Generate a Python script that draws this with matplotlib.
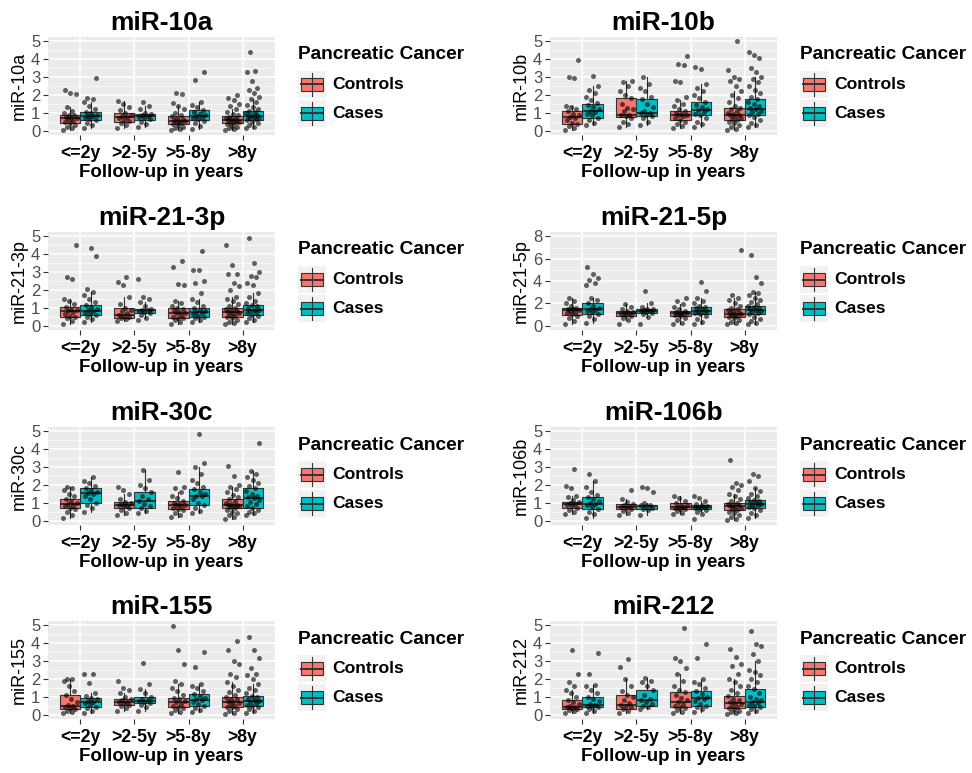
import numpy as np
import matplotlib
matplotlib.use('Agg')
import matplotlib.pyplot as plt
from matplotlib.patches import Rectangle

plt.rcParams['font.family'] = ['Liberation Sans', 'DejaVu Sans']

periods = ['<=2y', '>2-5y', '>5-8y', '>8y']
groups = ['Controls', 'Cases']
group_colors = ['#F8766D', '#00BFC4']

# box stats, order: ctrl <=2y, case <=2y, ctrl >2-5y, case >2-5y, ...
q1_10a = [0.45, 0.60, 0.50, 0.60, 0.35, 0.60, 0.45, 0.60]
med_10a = [0.70, 0.80, 0.75, 0.80, 0.55, 0.80, 0.60, 0.80]
q3_10a = [0.90, 1.05, 1.00, 0.95, 0.80, 1.15, 0.80, 1.10]
pts_10a = [
    [0.05, 0.12, 0.2, 0.3, 0.42, 0.48, 0.55, 0.62, 0.7, 0.72, 0.78, 0.85, 0.9, 1.0, 1.1, 1.3, 2.05, 2.1, 2.25],
    [0.15, 0.3, 0.45, 0.58, 0.65, 0.72, 0.8, 0.82, 0.9, 0.98, 1.05, 1.2, 1.4, 1.6, 1.75, 1.8, 2.95],
    [0.15, 0.3, 0.45, 0.52, 0.6, 0.7, 0.75, 0.8, 0.9, 1.0, 1.15, 1.3, 1.5, 1.65],
    [0.2, 0.35, 0.5, 0.62, 0.7, 0.78, 0.8, 0.85, 0.92, 1.0, 1.2, 1.4, 1.6],
    [0.05, 0.1, 0.15, 0.22, 0.3, 0.35, 0.4, 0.48, 0.52, 0.55, 0.6, 0.65, 0.72, 0.8, 0.9, 1.0, 1.2, 1.4, 1.55, 2.05, 2.08],
    [0.1, 0.25, 0.4, 0.55, 0.62, 0.7, 0.78, 0.8, 0.88, 0.95, 1.05, 1.15, 1.3, 1.45, 1.6, 2.85, 3.3],
    [0.05, 0.1, 0.15, 0.2, 0.28, 0.35, 0.42, 0.45, 0.5, 0.55, 0.58, 0.6, 0.62, 0.68, 0.72, 0.78, 0.85, 0.95, 1.05, 1.2, 1.35, 1.5, 1.7, 1.85, 2.0],
    [0.15, 0.22, 0.3, 0.4, 0.5, 0.58, 0.62, 0.68, 0.72, 0.78, 0.8, 0.85, 0.9, 0.98, 1.05, 1.1, 1.2, 1.3, 1.45, 1.6, 1.75, 1.9, 2.1, 2.3, 2.4, 2.8, 3.3, 3.35, 4.4],
]

q1_10b = [0.35, 0.70, 0.75, 0.80, 0.60, 0.85, 0.60, 0.90]
med_10b = [0.75, 1.10, 0.90, 1.00, 0.90, 1.15, 0.90, 1.20]
q3_10b = [1.10, 1.50, 1.80, 1.75, 1.10, 1.60, 1.25, 1.75]
pts_10b = [
    [0.05, 0.15, 0.25, 0.35, 0.45, 0.6, 0.72, 0.78, 0.85, 0.95, 1.1, 1.2, 1.3, 1.4, 2.95, 3.0, 3.95],
    [0.3, 0.45, 0.6, 0.7, 0.85, 0.95, 1.05, 1.1, 1.2, 1.3, 1.45, 1.55, 1.7, 1.9, 2.1, 2.3, 2.5, 3.05],
    [0.2, 0.35, 0.5, 0.72, 0.8, 0.88, 0.9, 1.1, 1.2, 1.25, 1.5, 1.8, 2.0, 2.2, 2.5, 2.7, 2.8],
    [0.3, 0.5, 0.7, 0.82, 0.9, 0.98, 1.0, 1.1, 1.3, 1.5, 1.75, 1.9, 2.2, 2.4, 2.6, 3.0],
    [0.15, 0.25, 0.35, 0.5, 0.6, 0.7, 0.8, 0.88, 0.9, 0.95, 1.0, 1.1, 1.2, 1.35, 1.5, 1.7, 1.9, 2.75, 2.8, 3.7, 3.75, 4.2],
    [0.2, 0.35, 0.5, 0.7, 0.85, 0.95, 1.05, 1.15, 1.2, 1.3, 1.45, 1.6, 1.8, 2.0, 2.2, 2.4, 2.6, 3.45, 3.55],
    [0.05, 0.1, 0.2, 0.3, 0.4, 0.5, 0.6, 0.65, 0.72, 0.8, 0.88, 0.9, 0.95, 1.0, 1.1, 1.2, 1.25, 1.4, 1.6, 1.8, 2.0, 2.2, 2.5, 2.8, 2.9, 3.0, 3.4, 5.0],
    [0.2, 0.3, 0.45, 0.6, 0.75, 0.9, 0.95, 1.05, 1.1, 1.2, 1.25, 1.35, 1.5, 1.6, 1.75, 1.9, 2.1, 2.3, 2.5, 2.7, 2.9, 3.0, 3.3, 3.5, 4.05, 4.25, 4.4],
]

q1_21_3p = [0.50, 0.60, 0.45, 0.70, 0.45, 0.50, 0.50, 0.60]
med_21_3p = [0.80, 0.80, 0.60, 0.85, 0.70, 0.75, 0.75, 0.85]
q3_21_3p = [1.05, 1.15, 1.00, 0.95, 1.00, 1.00, 1.00, 1.15]
pts_21_3p = [
    [0.1, 0.25, 0.4, 0.5, 0.55, 0.65, 0.75, 0.8, 0.88, 0.95, 1.05, 1.2, 1.35, 1.5, 2.6, 2.75, 4.5],
    [0.2, 0.35, 0.5, 0.6, 0.65, 0.72, 0.8, 0.85, 0.95, 1.05, 1.15, 1.3, 1.5, 1.7, 1.9, 2.05, 3.9, 4.35],
    [0.25, 0.35, 0.45, 0.5, 0.55, 0.6, 0.7, 0.8, 0.9, 1.0, 1.2, 1.6, 2.25, 2.45, 2.75],
    [0.3, 0.45, 0.6, 0.7, 0.75, 0.8, 0.85, 0.9, 0.95, 1.1, 1.3, 1.5, 1.6, 2.6],
    [0.1, 0.2, 0.3, 0.4, 0.45, 0.5, 0.6, 0.68, 0.7, 0.75, 0.85, 0.95, 1.0, 1.1, 1.25, 1.4, 2.25, 2.35, 3.3, 3.6],
    [0.2, 0.3, 0.4, 0.5, 0.55, 0.65, 0.72, 0.75, 0.8, 0.9, 1.0, 1.1, 1.3, 1.5, 1.8, 2.4, 2.5, 3.1, 3.12, 4.2],
    [0.1, 0.15, 0.2, 0.3, 0.4, 0.5, 0.55, 0.6, 0.68, 0.72, 0.75, 0.8, 0.88, 0.95, 1.0, 1.1, 1.2, 1.35, 1.5, 1.6, 2.0, 2.2, 2.4, 2.9, 2.92, 3.4, 4.5],
    [0.2, 0.3, 0.45, 0.55, 0.6, 0.68, 0.75, 0.8, 0.85, 0.9, 1.0, 1.1, 1.15, 1.25, 1.4, 1.6, 1.8, 2.3, 2.4, 2.7, 2.8, 3.0, 3.5, 4.9],
]

q1_21_5p = [0.95, 1.05, 0.85, 1.10, 0.85, 1.00, 0.80, 1.00]
med_21_5p = [1.40, 1.45, 1.10, 1.35, 1.10, 1.35, 1.05, 1.40]
q3_21_5p = [1.60, 2.05, 1.30, 1.50, 1.35, 1.65, 1.50, 1.80]
pts_21_5p = [
    [0.1, 0.4, 0.7, 0.9, 1.0, 1.1, 1.25, 1.35, 1.4, 1.45, 1.5, 1.6, 1.8, 2.0, 2.2, 2.5],
    [0.2, 0.6, 0.9, 1.05, 1.2, 1.3, 1.4, 1.45, 1.6, 1.8, 2.05, 2.3, 2.5, 3.6, 3.8, 4.1, 4.3, 4.6, 5.3],
    [0.1, 0.5, 0.7, 0.85, 0.95, 1.05, 1.1, 1.15, 1.25, 1.3, 1.5, 1.7, 1.9],
    [0.15, 0.8, 1.0, 1.1, 1.2, 1.3, 1.35, 1.4, 1.45, 1.5, 1.7, 2.0, 3.1],
    [0.1, 0.2, 0.5, 0.7, 0.85, 0.95, 1.0, 1.05, 1.1, 1.15, 1.25, 1.35, 1.5, 1.7, 1.9, 2.2, 2.5],
    [0.1, 0.3, 0.6, 0.85, 1.0, 1.1, 1.2, 1.3, 1.35, 1.45, 1.55, 1.65, 1.8, 2.0, 2.2, 2.5, 3.1, 3.95],
    [0.1, 0.2, 0.35, 0.5, 0.65, 0.8, 0.85, 0.95, 1.0, 1.05, 1.1, 1.2, 1.3, 1.4, 1.5, 1.6, 1.8, 2.0, 2.3, 2.5, 2.7, 6.8],
    [0.1, 0.2, 0.4, 0.6, 0.8, 1.0, 1.1, 1.2, 1.3, 1.4, 1.45, 1.55, 1.65, 1.8, 1.9, 2.1, 2.3, 2.5, 2.7, 2.9, 3.0, 3.8, 4.35, 6.3],
]

q1_30c = [0.70, 1.00, 0.70, 0.70, 0.65, 0.85, 0.70, 0.70]
med_30c = [0.95, 1.55, 0.90, 1.10, 0.85, 1.40, 0.85, 1.25]
q3_30c = [1.20, 1.80, 1.05, 1.60, 1.10, 1.75, 1.20, 1.80]
pts_30c = [
    [0.15, 0.3, 0.5, 0.65, 0.7, 0.8, 0.9, 0.95, 1.0, 1.1, 1.2, 1.35, 1.5, 1.7, 1.85, 1.9],
    [0.5, 0.7, 0.9, 1.0, 1.2, 1.4, 1.5, 1.55, 1.6, 1.7, 1.8, 1.95, 2.1, 2.2, 2.45],
    [0.3, 0.45, 0.6, 0.7, 0.8, 0.85, 0.9, 0.95, 1.0, 1.05, 1.2, 1.5, 1.7, 1.9],
    [0.45, 0.55, 0.7, 0.8, 0.95, 1.1, 1.2, 1.4, 1.6, 1.8, 2.0, 2.3, 2.85],
    [0.2, 0.3, 0.45, 0.6, 0.65, 0.72, 0.8, 0.85, 0.9, 0.95, 1.0, 1.1, 1.25, 1.4, 1.6, 1.8, 1.9, 2.75],
    [0.4, 0.55, 0.7, 0.85, 1.0, 1.2, 1.35, 1.4, 1.5, 1.6, 1.75, 1.9, 2.1, 2.3, 2.6, 3.0, 3.25, 4.85],
    [0.1, 0.2, 0.3, 0.4, 0.5, 0.6, 0.7, 0.75, 0.8, 0.82, 0.85, 0.9, 0.95, 1.0, 1.1, 1.2, 1.3, 1.45, 1.6, 1.75, 1.9, 2.0, 2.5, 3.05],
    [0.3, 0.4, 0.5, 0.6, 0.7, 0.8, 0.95, 1.05, 1.15, 1.25, 1.3, 1.4, 1.5, 1.65, 1.8, 1.95, 2.1, 2.3, 2.45, 2.6, 2.8, 4.35],
]

q1_106b = [0.70, 0.65, 0.65, 0.65, 0.65, 0.65, 0.60, 0.70]
med_106b = [0.95, 0.95, 0.75, 0.80, 0.75, 0.75, 0.80, 0.95]
q3_106b = [1.05, 1.30, 0.95, 0.90, 1.00, 0.85, 1.00, 1.15]
pts_106b = [
    [0.35, 0.5, 0.6, 0.7, 0.8, 0.9, 0.95, 1.0, 1.05, 1.15, 1.3, 1.4, 1.85, 1.95, 2.9],
    [0.15, 0.35, 0.5, 0.65, 0.75, 0.85, 0.95, 1.0, 1.1, 1.2, 1.3, 1.45, 1.6, 1.9, 2.2, 2.6],
    [0.3, 0.45, 0.55, 0.65, 0.7, 0.75, 0.8, 0.9, 0.95, 1.05, 1.2, 1.7],
    [0.3, 0.6, 0.65, 0.72, 0.8, 0.85, 0.9, 1.0, 1.6, 1.8, 1.9],
    [0.35, 0.45, 0.55, 0.62, 0.65, 0.7, 0.75, 0.78, 0.85, 0.9, 1.0, 1.1, 1.25, 1.4],
    [0.1, 0.35, 0.5, 0.6, 0.65, 0.7, 0.75, 0.78, 0.82, 0.85, 0.95, 1.1, 1.25, 1.4],
    [0.05, 0.1, 0.2, 0.3, 0.4, 0.5, 0.6, 0.65, 0.7, 0.75, 0.8, 0.85, 0.9, 0.95, 1.0, 1.1, 1.2, 1.35, 1.5, 1.7, 1.9, 2.0, 2.1, 3.4],
    [0.15, 0.3, 0.45, 0.6, 0.7, 0.78, 0.85, 0.9, 0.95, 1.0, 1.05, 1.1, 1.15, 1.25, 1.35, 1.5, 1.65, 1.8, 2.2, 2.5, 2.6],
]

q1_155 = [0.30, 0.45, 0.55, 0.65, 0.40, 0.50, 0.45, 0.50]
med_155 = [0.50, 0.70, 0.70, 0.75, 0.70, 0.80, 0.70, 0.75]
q3_155 = [1.10, 0.95, 0.85, 1.00, 0.95, 1.15, 1.00, 1.05]
pts_155 = [
    [0.1, 0.15, 0.2, 0.3, 0.35, 0.42, 0.5, 0.55, 0.7, 0.9, 1.1, 1.3, 1.6, 1.9, 2.0, 2.02],
    [0.1, 0.2, 0.35, 0.45, 0.55, 0.65, 0.7, 0.75, 0.85, 0.95, 1.05, 1.2, 1.75, 2.25, 2.3],
    [0.2, 0.35, 0.5, 0.55, 0.62, 0.7, 0.72, 0.8, 0.85, 1.0, 1.2, 1.4, 1.5, 1.9],
    [0.2, 0.4, 0.55, 0.65, 0.7, 0.75, 0.8, 0.9, 1.0, 1.2, 1.45, 1.7, 2.9],
    [0.1, 0.15, 0.25, 0.35, 0.4, 0.5, 0.6, 0.7, 0.75, 0.85, 0.95, 1.1, 1.3, 1.5, 1.7, 1.9, 2.85, 3.6, 4.95],
    [0.15, 0.25, 0.35, 0.5, 0.6, 0.7, 0.8, 0.85, 0.95, 1.05, 1.15, 1.3, 1.5, 1.6, 1.7, 2.65, 3.5],
    [0.05, 0.1, 0.2, 0.3, 0.4, 0.45, 0.5, 0.6, 0.65, 0.7, 0.75, 0.85, 0.9, 1.0, 1.1, 1.25, 1.4, 1.6, 1.8, 2.1, 2.3, 2.85, 3.0, 3.6, 4.15],
    [0.1, 0.2, 0.3, 0.4, 0.5, 0.55, 0.65, 0.7, 0.75, 0.8, 0.9, 1.0, 1.05, 1.2, 1.35, 1.5, 1.7, 2.0, 2.2, 2.3, 2.6, 3.15, 3.6, 4.35],
]

q1_212 = [0.30, 0.40, 0.30, 0.50, 0.40, 0.50, 0.35, 0.40]
med_212 = [0.45, 0.55, 0.55, 0.80, 0.70, 0.95, 0.65, 0.70]
q3_212 = [0.80, 1.00, 1.10, 1.35, 1.25, 1.30, 1.05, 1.45]
pts_212 = [
    [0.1, 0.2, 0.25, 0.3, 0.35, 0.4, 0.45, 0.5, 0.6, 0.7, 0.8, 1.0, 1.2, 1.4, 1.6, 1.8, 2.3, 3.65],
    [0.1, 0.2, 0.3, 0.4, 0.45, 0.5, 0.55, 0.6, 0.75, 0.9, 1.0, 1.2, 1.4, 1.6, 1.65, 2.3, 3.45],
    [0.1, 0.2, 0.3, 0.4, 0.5, 0.55, 0.65, 0.8, 1.0, 1.1, 1.3, 1.6, 2.0, 2.65, 3.1],
    [0.3, 0.4, 0.5, 0.6, 0.7, 0.8, 0.9, 1.1, 1.35, 1.6, 1.8, 1.9, 2.05],
    [0.1, 0.15, 0.25, 0.35, 0.4, 0.5, 0.6, 0.7, 0.8, 0.95, 1.1, 1.25, 1.4, 1.6, 1.9, 2.25, 2.6, 3.0, 3.15, 4.85],
    [0.15, 0.3, 0.45, 0.5, 0.6, 0.75, 0.9, 0.95, 1.0, 1.15, 1.3, 1.5, 1.7, 1.85, 2.0, 3.2, 3.95],
    [0.05, 0.1, 0.15, 0.2, 0.3, 0.35, 0.4, 0.5, 0.6, 0.65, 0.7, 0.8, 0.9, 1.05, 1.2, 1.4, 1.6, 1.8, 2.0, 2.3, 2.7, 2.85, 3.25, 3.7],
    [0.1, 0.2, 0.3, 0.4, 0.5, 0.55, 0.65, 0.7, 0.8, 0.9, 1.0, 1.2, 1.45, 1.6, 1.8, 2.0, 2.2, 2.4, 2.5, 3.0, 3.4, 3.85, 3.95, 4.7],
]

panels = [
    ('miR-10a', q1_10a, med_10a, q3_10a, pts_10a, 5),
    ('miR-10b', q1_10b, med_10b, q3_10b, pts_10b, 5),
    ('miR-21-3p', q1_21_3p, med_21_3p, q3_21_3p, pts_21_3p, 5),
    ('miR-21-5p', q1_21_5p, med_21_5p, q3_21_5p, pts_21_5p, 8),
    ('miR-30c', q1_30c, med_30c, q3_30c, pts_30c, 5),
    ('miR-106b', q1_106b, med_106b, q3_106b, pts_106b, 5),
    ('miR-155', q1_155, med_155, q3_155, pts_155, 5),
    ('miR-212', q1_212, med_212, q3_212, pts_212, 5),
]

W, H = 972, 773
fig = plt.figure(figsize=(W / 100, H / 100), dpi=100)
fig.patch.set_facecolor('white')

col_left = [48, 550]
row_top = [37, 232, 427, 621]
pw, ph = 227, 98


def draw_legend(x0, y0):
    lax = fig.add_axes([x0 / W, 1 - (y0 + 80) / H, 175 / W, 80 / H])
    lax.set_xlim(0, 175)
    lax.set_ylim(80, 0)
    lax.axis('off')
    lax.text(0, 2, 'Pancreatic Cancer', fontsize=13.8, fontweight='bold', va='center', ha='left')
    for j, (g, c) in enumerate(zip(groups, group_colors)):
        ky = 18 + j * 29
        lax.add_patch(Rectangle((0, ky), 28, 27, facecolor='#F2F2F2', edgecolor='none'))
        lax.plot([14, 14], [ky + 2, ky + 25], color='#333333', lw=0.8)
        lax.add_patch(Rectangle((3, ky + 7), 22, 13, facecolor=c, edgecolor='#333333', lw=0.8))
        lax.plot([3, 25], [ky + 13.5, ky + 13.5], color='#333333', lw=1.4)
        lax.text(34, ky + 13.5, g, fontsize=12.6, fontweight='bold', va='center', ha='left')


for k, (title, q1, med, q3, pts, ymax) in enumerate(panels):
    r, c = divmod(k, 2)
    x0, y0 = col_left[c], row_top[r]
    ax = fig.add_axes([x0 / W, 1 - (y0 + ph) / H, pw / W, ph / H])
    ax.set_facecolor('#EBEBEB')
    for s in ax.spines.values():
        s.set_visible(False)

    positions = []
    stats = []
    for i in range(8):
        pos = i // 2 + 1 + (-0.1875 if i % 2 == 0 else 0.1875)
        positions.append(pos)
        v = np.array(pts[i])
        iqr = q3[i] - q1[i]
        hi = v[v <= q3[i] + 1.5 * iqr].max()
        lo = v[v >= q1[i] - 1.5 * iqr].min()
        stats.append(dict(med=med[i], q1=q1[i], q3=q3[i], whislo=lo, whishi=hi, fliers=[]))

    bp = ax.bxp(stats, positions=positions, widths=0.375, patch_artist=True,
                showfliers=False, showcaps=False,
                boxprops=dict(edgecolor='#333333', linewidth=0.8),
                medianprops=dict(color='#333333', linewidth=1.5),
                whiskerprops=dict(color='#333333', linewidth=0.8), zorder=2)
    for i, b in enumerate(bp['boxes']):
        b.set_facecolor(group_colors[i % 2])

    for i in range(8):
        v = np.array(pts[i])
        jit = ((np.arange(len(v)) * 0.618034) % 1 - 0.5) * 0.26
        ax.scatter(positions[i] + jit, v, s=13, color='black', alpha=0.6,
                   linewidths=0, zorder=3)

    step = 2 if ymax == 8 else 1
    pad = ymax * 0.05
    ax.set_ylim(-pad, ymax + pad)
    ax.set_xlim(0.4, 4.6)
    ax.set_yticks(np.arange(0, ymax + 0.1, step))
    ax.set_yticks(np.arange(step / 2, ymax, step), minor=True)
    ax.set_xticks(range(1, 5))
    ax.set_xticklabels(periods, fontsize=12.7, fontweight='bold', color='black')
    ax.tick_params(axis='y', labelsize=12, labelcolor='#4D4D4D', color='#333333', length=3.5, pad=2)
    ax.tick_params(axis='x', color='#333333', length=3.5, pad=4)
    ax.tick_params(axis='y', which='minor', length=0)
    ax.grid(True, which='major', color='white', linewidth=1.1, zorder=0)
    ax.grid(True, which='minor', axis='y', color='white', linewidth=0.5, zorder=0)
    ax.set_axisbelow(True)
    ax.set_title(title, fontsize=19, fontweight='bold', pad=5)
    ax.set_ylabel(title, fontsize=13, labelpad=2)
    ax.set_xlabel('Follow-up in years', fontsize=13.5, fontweight='bold', labelpad=1)

    draw_legend(x0 + 250, y0 + 16)

fig.savefig('out.png', dpi=100, facecolor='white')
